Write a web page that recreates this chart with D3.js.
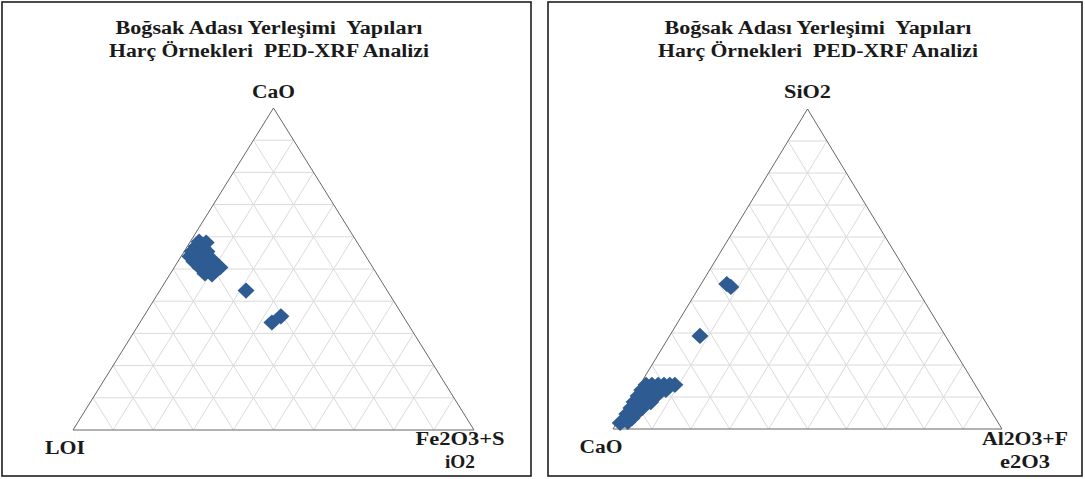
<!DOCTYPE html>
<html>
<head>
<meta charset="utf-8">
<script src="https://cdn.jsdelivr.net/npm/d3@7"></script>
<style>
  html, body { margin: 0; padding: 0; background: #fff; }
  svg { display: block; }
  text { font-family: "Liberation Serif", "Times New Roman", serif; font-weight: bold; fill: #1a1a1a; white-space: pre; }
</style>
</head>
<body>
<svg id="chart" width="1085" height="479"></svg>
<script>
// ---- shared text / grid ----
const titleLines = ["Boğsak Adası Yerleşimi  Yapıları", "Harç Örnekleri  PED-XRF Analizi"];
const gridSteps = d3.range(1, 10).map(i => i / 10);

// ---- diagram 1: CaO (apex) – LOI (left) – Fe2O3+SiO2 (right), wt % ----
const apexLabelA = "CaO";
const leftLabelA = "LOI";
const rightLabelA = ["Fe2O3+S", "iO2"];
const caoA  = [58.5, 58.2, 57.0, 56.7, 55.4, 55.1, 55.4, 53.9, 53.6, 53.6, 52.9, 52.3, 52.0, 51.7, 51.4, 50.5, 50.2, 49.8, 50.5, 48.6, 48.3, 43.3, 33.4, 35.3];
const loiA  = [39.3, 37.7, 40.8, 39.2, 42.6, 41.0, 38.9, 43.9, 42.3, 40.3, 38.9, 43.7, 42.1, 40.2, 38.6, 43.1, 41.5, 40.0, 38.1, 42.8, 41.2, 35.2, 33.7, 30.5];
const feSiA = [ 2.2,  4.1,  2.2,  4.1,  2.0,  3.9,  5.7,  2.2,  4.1,  6.1,  8.2,  4.0,  5.9,  8.1, 10.0,  6.4,  8.3, 10.2, 11.4,  8.6, 10.5, 21.5, 32.9, 34.2];

// ---- diagram 2: SiO2 (apex) – CaO (left) – Al2O3+Fe2O3 (right), wt % ----
const apexLabelB = "SiO2";
const leftLabelB = "CaO";
const rightLabelB = ["Al2O3+F", "e2O3"];
const sio2B = [45.3, 44.4, 29.1, 1.9, 2.8, 2.2, 3.4, 4.7, 4.7, 5.0, 6.6, 6.6, 6.6, 8.4, 8.4, 8.4, 8.4, 10.3, 10.3, 10.3, 10.3, 12.2, 12.2, 12.2, 12.2, 12.2, 13.8, 13.8, 13.8, 13.8, 13.8, 13.8];
const caoB  = [48.1, 47.5, 63.1, 97.2, 95.8, 95.1, 93.4, 94.1, 92.5, 91.4, 92.1, 90.5, 89.2, 90.4, 88.9, 87.4, 86.1, 88.4, 86.9, 85.4, 83.8, 86.5, 84.9, 83.4, 81.8, 80.3, 84.6, 83.1, 81.5, 80.0, 78.5, 77.2];
const alFeB = [ 6.6,  8.1,  7.8,  0.9,  1.4,  2.7,  3.2,  1.2,  2.8,  3.6,  1.3,  2.9,  4.2,  1.2,  2.7,  4.2,  5.5,  1.3,  2.8,  4.3,  5.9,  1.3,  2.9,  4.4,  6.0,  7.5,  1.6,  3.1,  4.7,  6.2,  7.7,  9.0];

// ---- styling ----
const markerColor = "#2e5c92";
const gridColor = "#dadada";
const edgeColor = "#666666";

// Diamond marker (square rotated 45°), half-diagonals rx × ry
const diamond = {
  draw(ctx, size) {
    const rx = Math.sqrt(size) / 2, ry = rx * 0.95;
    ctx.moveTo(0, -ry); ctx.lineTo(rx, 0); ctx.lineTo(0, ry); ctx.lineTo(-rx, 0); ctx.closePath();
  }
};

const svg = d3.select("#chart");

const panels = [
  {
    box: [2, 2, 529, 474],
    tri: { left: 73, right: 474, base: 430, apex: 108 },
    titleCx: 269, titleW: [307, 320],
    apexLabel: apexLabelA, apexW: 43,
    leftLabel: leftLabelA, leftX: 65, leftW: 40, leftY: 454,
    rightLabel: rightLabelA, rightX: 460, rightW: [89, 30],
    rows: caoA.map((v, i) => ({ top: v, left: loiA[i], right: feSiA[i] }))
  },
  {
    box: [548, 2, 534, 474],
    tri: { left: 613, right: 1002, base: 429, apex: 109 },
    titleCx: 818, titleW: [307, 320],
    apexLabel: apexLabelB, apexW: 47,
    leftLabel: leftLabelB, leftX: 601, leftW: 43, leftY: 453,
    rightLabel: rightLabelB, rightX: 1025, rightW: [86, 50],
    rows: sio2B.map((v, i) => ({ top: v, left: caoB[i], right: alFeB[i] }))
  }
];

panels.forEach(p => {
  const g = svg.append("g");

  // panel frame
  g.append("rect")
    .attr("x", p.box[0]).attr("y", p.box[1])
    .attr("width", p.box[2]).attr("height", p.box[3])
    .attr("fill", "none").attr("stroke", "#1e1e1e").attr("stroke-width", 1.6);

  // ternary → screen: X = right + top/2, Y = top (fractions)
  const x = d3.scaleLinear().domain([0, 1]).range([p.tri.left, p.tri.right]);
  const y = d3.scaleLinear().domain([0, 1]).range([p.tri.base, p.tri.apex]);
  const pos = (top, right) => [x(right + top / 2), y(top)];

  // grid lines every 10 %
  const segs = [];
  gridSteps.forEach(t => {
    segs.push([pos(t, 0), pos(t, 1 - t)]);          // constant apex component
    segs.push([pos(0, t), pos(1 - t, t)]);          // constant right component
    segs.push([pos(0, 1 - t), pos(1 - t, 0)]);      // constant left component
  });
  g.append("g").selectAll("line").data(segs).join("line")
    .attr("x1", d => d[0][0]).attr("y1", d => d[0][1])
    .attr("x2", d => d[1][0]).attr("y2", d => d[1][1])
    .attr("stroke", gridColor).attr("stroke-width", 1);

  // outline
  const corners = [pos(1, 0), pos(0, 0), pos(0, 1)];
  g.append("path")
    .attr("d", d3.line()(corners) + "Z")
    .attr("fill", "none").attr("stroke", edgeColor).attr("stroke-width", 1);

  // samples
  const sym = d3.symbol().type(diamond).size(289);
  g.append("g").selectAll("path").data(p.rows).join("path")
    .attr("d", sym)
    .attr("transform", d => {
      const s = d.top + d.left + d.right;
      const [px, py] = pos(d.top / s, d.right / s);
      return `translate(${px},${py})`;
    })
    .attr("fill", markerColor);

  // titles
  titleLines.forEach((t, i) => {
    g.append("text")
      .attr("x", p.titleCx).attr("y", 34 + i * 23)
      .attr("text-anchor", "middle")
      .attr("font-size", 18)
      .attr("textLength", p.titleW[i]).attr("lengthAdjust", "spacingAndGlyphs")
      .text(t);
  });

  // corner labels
  const apexPt = pos(1, 0);
  g.append("text")
    .attr("x", apexPt[0]).attr("y", 98)
    .attr("text-anchor", "middle").attr("font-size", 18)
    .attr("textLength", p.apexW).attr("lengthAdjust", "spacingAndGlyphs")
    .text(p.apexLabel);

  g.append("text")
    .attr("x", p.leftX).attr("y", p.leftY)
    .attr("text-anchor", "middle").attr("font-size", 18)
    .attr("textLength", p.leftW).attr("lengthAdjust", "spacingAndGlyphs")
    .text(p.leftLabel);

  p.rightLabel.forEach((t, i) => {
    g.append("text")
      .attr("x", p.rightX).attr("y", 445 + i * 23)
      .attr("text-anchor", "middle").attr("font-size", 18)
      .attr("textLength", p.rightW[i]).attr("lengthAdjust", "spacingAndGlyphs")
      .text(t);
  });
});
</script>
</body>
</html>
